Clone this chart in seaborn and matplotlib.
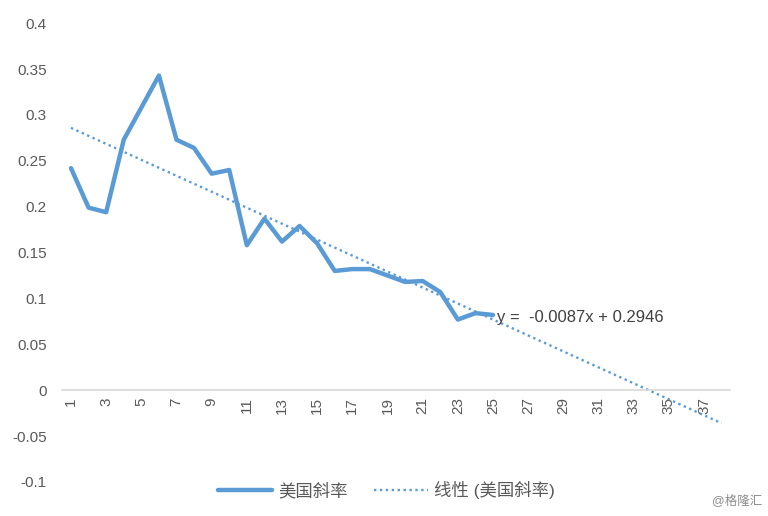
import matplotlib
matplotlib.use("Agg")
import matplotlib.pyplot as plt
import numpy as np
import pandas as pd
import seaborn as sns

# values
periods = list(range(1, 26))
us_slope = [
    0.242, 0.199, 0.194, 0.273, 0.308, 0.343, 0.273, 0.264, 0.236, 0.240,
    0.158, 0.187, 0.162, 0.179, 0.160, 0.130, 0.132, 0.132, 0.125, 0.118,
    0.119, 0.107, 0.077, 0.084, 0.082,
]
trend_periods = list(range(1, 39))
trend_slope = -0.0087
trend_intercept = 0.2946
y_ticks = [-0.1, -0.05, 0, 0.05, 0.1, 0.15, 0.2, 0.25, 0.3, 0.35, 0.4]
y_tick_labels = ["-0.1", "-0.05", "0", "0.05", "0.1", "0.15", "0.2", "0.25", "0.3", "0.35", "0.4"]
x_tick_labels = [str(p) for p in range(1, 39, 2)]

series_name = "美国斜率"
trend_name = "线性 (美国斜率)"
equation_text = "y =  -0.0087x + 0.2946"

BLUE = "#5B9BD5"
GREY_TEXT = "#595959"


def _configure_plot_style() -> None:
    sns.set_theme(style="white")
    plt.rcParams["font.family"] = ["Liberation Sans", "Noto Sans CJK SC", "DejaVu Sans"]
    plt.rcParams["axes.unicode_minus"] = False


def main() -> None:
    _configure_plot_style()

    line_df = pd.DataFrame({"period": periods, "value": us_slope})
    trend_x = np.array(trend_periods)
    trend_df = pd.DataFrame({"period": trend_x, "value": trend_slope * trend_x + trend_intercept})

    fig = plt.figure(figsize=(7.68, 5.16), dpi=100)
    ax = fig.add_axes([0.081, 0.066, 0.870, 0.889])

    sns.lineplot(data=line_df, x="period", y="value", ax=ax, color=BLUE,
                 linewidth=3.2, label=series_name, legend=False)
    sns.lineplot(data=trend_df, x="period", y="value", ax=ax, color=BLUE,
                 linewidth=1.7, linestyle=(0, (1, 1.5)), label=trend_name, legend=False)

    # spines first: moving a spine resets the tick objects
    for side in ["top", "right", "left"]:
        ax.spines[side].set_visible(False)
    ax.spines["bottom"].set_position(("data", 0))
    ax.spines["bottom"].set_color("#D9D9D9")
    ax.spines["bottom"].set_linewidth(1.2)

    ax.set_xlim(0.5, 38.5)
    ax.set_ylim(-0.1, 0.4)
    ax.set_yticks(y_ticks)
    ax.set_yticklabels(y_tick_labels, fontsize=11, color=GREY_TEXT)
    ax.set_xticks(range(1, 39, 2))
    ax.set_xticklabels(x_tick_labels, fontsize=11, color=GREY_TEXT)
    ax.tick_params(axis="both", length=0)
    ax.tick_params(axis="y", pad=11)
    ax.tick_params(axis="x", pad=5, labelrotation=90)
    ax.set_xlabel("")
    ax.set_ylabel("")

    ax.text(25.25, 0.0796, equation_text, fontsize=12, color="#404040", ha="left", va="center")

    handles, labels = ax.get_legend_handles_labels()
    fig.legend(handles, labels, loc="center", bbox_to_anchor=(0.503, 0.05), ncol=2,
               frameon=False, fontsize=12.5, handlelength=3.1, handletextpad=0.35,
               columnspacing=1.5, labelcolor=GREY_TEXT)

    fig.text(0.992, 0.03, "@格隆汇", fontsize=9, color="#8C8C8C", ha="right", va="center")

    fig.savefig("out.png", dpi=100)
    plt.close(fig)


if __name__ == "__main__":
    main()
